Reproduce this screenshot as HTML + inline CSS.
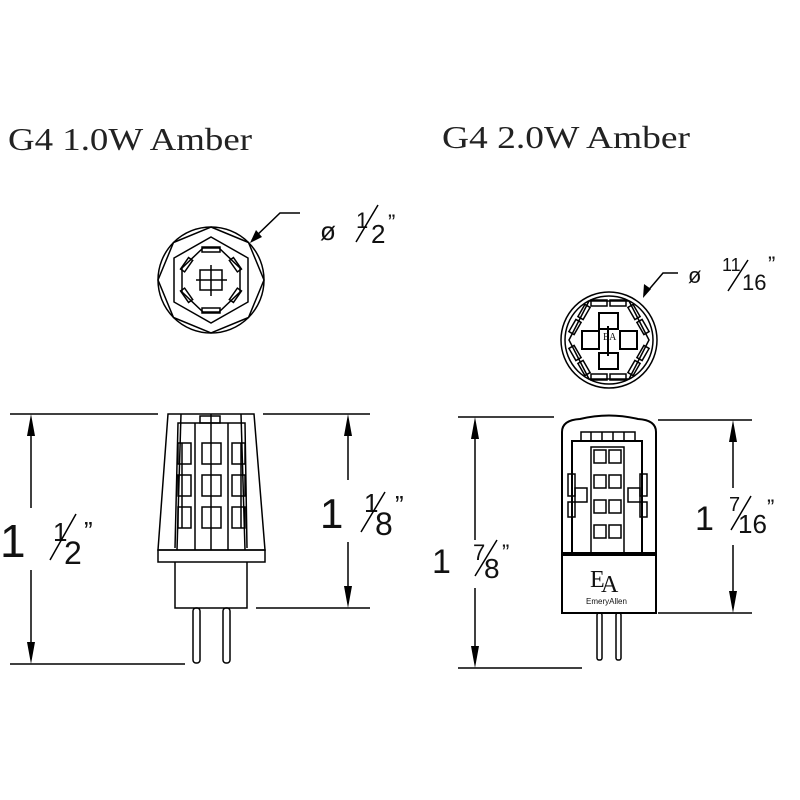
<!DOCTYPE html>
<html><head><meta charset="utf-8"><style>
html,body{margin:0;padding:0;background:#fff;}
svg{display:block}
text{font-family:"Liberation Sans",sans-serif;fill:#111}
.t{font-family:"Liberation Serif",serif;font-size:32px;fill:#222}
.n{font-size:34px;font-weight:normal}
</style></head><body>
<svg width="800" height="800" viewBox="0 0 800 800" xmlns="http://www.w3.org/2000/svg">
<text class="t" x="8" y="150" textLength="244" lengthAdjust="spacingAndGlyphs">G4 1.0W Amber</text>
<text class="t" x="442" y="148" textLength="248" lengthAdjust="spacingAndGlyphs">G4 2.0W Amber</text>

<g fill="none" stroke="#000" stroke-width="1.5">
<circle cx="211" cy="280" r="53"/>
<polygon points="211,227 248.5,242.5 264,280 248.5,317.5 211,333 173.5,317.5 158,280 173.5,242.5"/>
<polygon points="211,237 248,258 248,302 211,323 174,302 174,258"/>
<polygon points="203,248 219,248 240,268 240,292 219,312 203,312 182,292 182,268"/>
<rect x="202" y="247" width="18" height="5"/><rect x="202" y="308" width="18" height="5"/>
<rect x="233" y="258" width="5" height="14" transform="rotate(-35 235 265)"/>
<rect x="233" y="288" width="5" height="14" transform="rotate(35 235 295)"/>
<rect x="184" y="258" width="5" height="14" transform="rotate(35 187 265)"/>
<rect x="184" y="288" width="5" height="14" transform="rotate(-35 187 295)"/>
<rect x="200" y="270" width="22" height="20"/>
<line x1="196" y1="280" x2="227" y2="280"/><line x1="211" y1="265" x2="211" y2="296"/>
<polyline points="300,213 280,213 252,240" />
</g>
<path d="M250,243 L256,230 L262,237 Z" fill="#000"/>
<text x="320" y="240" style="font-size:26px">ø</text>
<text x="356" y="228" style="font-size:22px">1</text>
<line x1="356" y1="242" x2="378" y2="205" stroke="#000" stroke-width="1.5"/>
<text x="371" y="243" style="font-size:26px">2</text>
<text x="388" y="230" style="font-size:22px">”</text>

<g fill="none" stroke="#000" stroke-width="1.5">
<line x1="10" y1="414" x2="158" y2="414"/><line x1="263" y1="414" x2="370" y2="414"/>
<line x1="10" y1="664" x2="185" y2="664"/><line x1="256" y1="608" x2="370" y2="608"/>
<line x1="31" y1="430" x2="31" y2="508" /><line x1="31" y1="570" x2="31" y2="648"/>
<line x1="348" y1="430" x2="348" y2="480"/><line x1="348" y1="542" x2="348" y2="592"/>
<polygon points="168,414 254,414 265,550 158,550"/>
<rect x="158" y="550" width="107" height="12"/>
<polyline points="175,562 175,608 247,608 247,562"/>
<rect x="193" y="608" width="7" height="55" rx="3"/>
<rect x="223" y="608" width="7" height="55" rx="3"/>
<polyline points="175,548 178,423 245,423 247,548"/>
<line x1="181" y1="414" x2="177" y2="550"/><line x1="241" y1="414" x2="245" y2="550"/>
<line x1="195" y1="423" x2="195" y2="550"/><line x1="211" y1="414" x2="211" y2="550"/><line x1="228" y1="423" x2="228" y2="550"/>
<rect x="200" y="416" width="20" height="7"/>
<rect x="178" y="443" width="13" height="21"/><rect x="202" y="443" width="19" height="21"/><rect x="232" y="443" width="13" height="21"/>
<rect x="178" y="475" width="13" height="21"/><rect x="202" y="475" width="19" height="21"/><rect x="232" y="475" width="13" height="21"/>
<rect x="178" y="507" width="13" height="21"/><rect x="202" y="507" width="19" height="21"/><rect x="232" y="507" width="13" height="21"/>
<line x1="182" y1="443" x2="182" y2="528"/><line x1="241" y1="443" x2="241" y2="528"/>
</g>
<path d="M31,414 L27,436 L35,436 Z M31,664 L27,642 L35,642 Z M348,414 L344,436 L352,436 Z M348,608 L344,586 L352,586 Z" fill="#000"/>
<text x="0" y="557" style="font-size:46px">1</text>
<text x="53" y="541" style="font-size:26px">1</text>
<line x1="50" y1="560" x2="76" y2="514" stroke="#000" stroke-width="1.5"/>
<text x="64" y="564" style="font-size:32px">2</text>
<text x="84" y="540" style="font-size:26px">”</text>
<text x="320" y="528" style="font-size:42px">1</text>
<text x="364" y="512" style="font-size:26px">1</text>
<line x1="361" y1="532" x2="385" y2="492" stroke="#000" stroke-width="1.5"/>
<text x="375" y="535" style="font-size:32px">8</text>
<text x="395" y="514" style="font-size:26px">”</text>

<g fill="none" stroke="#000" stroke-width="1.5">
<circle cx="609" cy="340" r="48"/><circle cx="609" cy="340" r="44"/>
<polygon points="589,301 629,301 649,340 629,379 589,379 569,340"/>
<rect x="591" y="300" width="16" height="6"/><rect x="610" y="300" width="16" height="6"/>
<rect x="591" y="374" width="16" height="6"/><rect x="610" y="374" width="16" height="6"/>
<rect x="631" y="305" width="6" height="14" transform="rotate(-30 634 312)"/>
<rect x="640" y="320" width="6" height="14" transform="rotate(-30 643 327)"/>
<rect x="640" y="346" width="6" height="14" transform="rotate(30 643 353)"/>
<rect x="631" y="361" width="6" height="14" transform="rotate(30 634 368)"/>
<rect x="581" y="305" width="6" height="14" transform="rotate(30 584 312)"/>
<rect x="572" y="320" width="6" height="14" transform="rotate(30 575 327)"/>
<rect x="572" y="346" width="6" height="14" transform="rotate(-30 575 353)"/>
<rect x="581" y="361" width="6" height="14" transform="rotate(-30 584 368)"/>
<rect x="599" y="313" width="19" height="16" stroke-width="2"/>
<rect x="599" y="353" width="19" height="16" stroke-width="2"/>
<rect x="582" y="331" width="17" height="18" stroke-width="2"/>
<rect x="620" y="331" width="17" height="18" stroke-width="2"/>
<line x1="608" y1="326" x2="608" y2="356" stroke-width="2"/>
<polyline points="678,273 663,273 646,293"/>
</g>
<text x="603" y="340" style="font-family:'Liberation Serif',serif;font-size:10px">EA</text>
<path d="M643,298 L644,284 L651,289 Z" fill="#000"/>
<text x="688" y="283" style="font-size:22px">ø</text>
<text x="722" y="271" style="font-size:18px">11</text>
<line x1="728" y1="291" x2="748" y2="260" stroke="#000" stroke-width="1.5"/>
<text x="742" y="290" style="font-size:22px">16</text>
<text x="768" y="272" style="font-size:22px">”</text>

<g fill="none" stroke="#000" stroke-width="1.5">
<line x1="458" y1="417" x2="554" y2="417"/><line x1="658" y1="420" x2="752" y2="420"/>
<line x1="458" y1="668" x2="582" y2="668"/><line x1="658" y1="613" x2="752" y2="613"/>
<line x1="475" y1="430" x2="475" y2="540"/><line x1="475" y1="588" x2="475" y2="655"/>
<line x1="733" y1="433" x2="733" y2="488"/><line x1="733" y1="545" x2="733" y2="600"/>
<path d="M562,613 L562,432 Q562,420 580,419 Q609,412 638,419 Q656,420 656,432 L656,613 Z" stroke-width="2"/>
<rect x="597" y="613" width="5" height="47" rx="2"/><rect x="616" y="613" width="5" height="47" rx="2"/>
<polyline points="572,553 572,441 642,441 642,553" stroke-width="2"/>
<rect x="581" y="432" width="54" height="9"/>
<line x1="591" y1="432" x2="591" y2="441"/><line x1="602" y1="432" x2="602" y2="441"/><line x1="613" y1="432" x2="613" y2="441"/><line x1="624" y1="432" x2="624" y2="441"/>
<polyline points="591,553 591,447 624,447 624,553"/>
<rect x="594" y="450" width="12" height="13"/><rect x="609" y="450" width="12" height="13"/>
<rect x="594" y="475" width="12" height="13"/><rect x="609" y="475" width="12" height="13"/>
<rect x="594" y="500" width="12" height="13"/><rect x="609" y="500" width="12" height="13"/>
<rect x="594" y="525" width="12" height="13"/><rect x="609" y="525" width="12" height="13"/>
<rect x="568" y="474" width="7" height="22"/><rect x="568" y="502" width="7" height="15"/>
<rect x="575" y="488" width="12" height="14"/>
<rect x="640" y="474" width="7" height="22"/><rect x="640" y="502" width="7" height="15"/>
<rect x="628" y="488" width="12" height="14"/>
</g>
<rect x="562" y="552" width="94" height="4" fill="#000"/>
<text x="590" y="587" style="font-family:'Liberation Serif',serif;font-size:24px">E</text>
<text x="601" y="592" style="font-family:'Liberation Serif',serif;font-size:24px">A</text>
<text x="586" y="604" style="font-size:8px">EmeryAllen</text>
<path d="M475,417 L471,439 L479,439 Z M475,668 L471,646 L479,646 Z M733,420 L729,442 L737,442 Z M733,613 L729,591 L737,591 Z" fill="#000"/>
<text class="n" x="432" y="573">1</text>
<text x="473" y="560" style="font-size:22px">7</text>
<line x1="475" y1="576" x2="497" y2="540" stroke="#000" stroke-width="1.5"/>
<text x="484" y="578" style="font-size:28px">8</text>
<text x="502" y="560" style="font-size:22px">”</text>
<text class="n" x="695" y="530">1</text>
<text x="729" y="511" style="font-size:20px">7</text>
<line x1="731" y1="530" x2="751" y2="496" stroke="#000" stroke-width="1.5"/>
<text x="738" y="533" style="font-size:26px">16</text>
<text x="767" y="515" style="font-size:22px">”</text>
</svg>
</body></html>
